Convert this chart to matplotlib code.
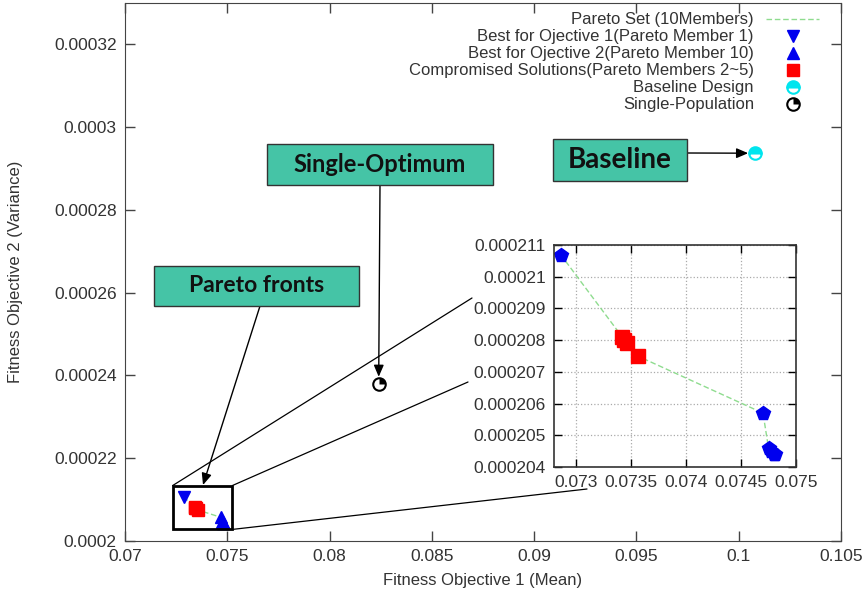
import matplotlib
matplotlib.use("Agg")
import matplotlib.pyplot as plt
from matplotlib.patches import Rectangle, ConnectionPatch
from matplotlib.lines import Line2D
from matplotlib.path import Path
from matplotlib.legend_handler import HandlerTuple
from matplotlib.ticker import FuncFormatter

# pareto set, 10 members (mean, variance)
pareto_mean = [0.07286, 0.07342, 0.07344, 0.07346, 0.07356,
               0.07470, 0.07475, 0.07477, 0.07480, 0.07481]
pareto_var = [0.0002107, 0.0002081, 0.0002080, 0.0002079, 0.0002075,
              0.0002057, 0.0002046, 0.0002045, 0.0002044, 0.0002044]
baseline = (0.1008, 0.0002937)
single_pop = (0.0824, 0.000238)

x_ticks = [0.07, 0.075, 0.08, 0.085, 0.09, 0.095, 0.1, 0.105]
y_ticks = [0.0002, 0.00022, 0.00024, 0.00026, 0.00028, 0.0003, 0.00032]
inset_x_ticks = [0.073, 0.0735, 0.074, 0.0745, 0.075]
inset_y_ticks = [0.000204, 0.000205, 0.000206, 0.000207, 0.000208,
                 0.000209, 0.00021, 0.000211]

W, H = 863, 599
plt.rcParams["font.family"] = ["Liberation Sans", "DejaVu Sans"]
TXT = "#333333"
GREEN = "#8fdc8f"
TEAL = "#45c4a6"


def fp(x, y):
    # pixel position (from top-left) -> figure fraction
    return (x / W, 1 - y / H)


fmt = FuncFormatter(lambda v, p: f"{v:g}")
quarter = Path.wedge(0, 90)

fig = plt.figure(figsize=(W / 100, H / 100), dpi=100)
ax = fig.add_axes([125 / W, 1 - 541 / H, 716 / W, 538 / H])

ax.plot(pareto_mean, pareto_var, color=GREEN, lw=1, ls=(0, (4, 2)))
ax.plot(pareto_mean[:1], pareto_var[:1], ls="none", marker="v", ms=9,
        color="#0000ee")
ax.plot(pareto_mean[5:], pareto_var[5:], ls="none", marker="^", ms=9,
        color="#0000ee")
ax.plot(pareto_mean[1:5], pareto_var[1:5], ls="none", marker="s", ms=8,
        color="#ff0000")
ax.plot(*baseline, ls="none", marker="o", ms=9, fillstyle="top",
        markerfacecolor="#00e5ee", markerfacecoloralt="white",
        markeredgecolor="#00e5ee", mew=1.5)
ax.plot(*single_pop, ls="none", marker="o", ms=9, markerfacecolor="white",
        markeredgecolor="black", mew=1.5)
ax.plot(*single_pop, ls="none", marker=quarter, ms=9, color="black", mew=0)

ax.set_xlim(0.07, 0.105)
ax.set_ylim(0.0002, 0.00033)
ax.set_xticks(x_ticks)
ax.set_yticks(y_ticks)
ax.xaxis.set_major_formatter(fmt)
ax.yaxis.set_major_formatter(fmt)
ax.tick_params(direction="in", top=True, right=True, length=7, width=1,
               labelsize=12.5, labelcolor=TXT, color="#444444", pad=6)
for s in ax.spines.values():
    s.set_color("#444444")
ax.set_xlabel("Fitness Objective 1 (Mean)", fontsize=12, color=TXT, labelpad=6)
ax.set_ylabel("Fitness Objective 2 (Variance)", fontsize=12, color=TXT,
              labelpad=22)

# legend
h_line = Line2D([], [], color=GREEN, lw=1, ls=(0, (4, 2)))
h_v = Line2D([], [], ls="none", marker="v", ms=9, color="#0000ee")
h_u = Line2D([], [], ls="none", marker="^", ms=9, color="#0000ee")
h_s = Line2D([], [], ls="none", marker="s", ms=8, color="#ff0000")
h_b = Line2D([], [], ls="none", marker="o", ms=9, fillstyle="top",
             markerfacecolor="#00e5ee", markerfacecoloralt="white",
             markeredgecolor="#00e5ee", mew=1.5)
h_p1 = Line2D([], [], ls="none", marker="o", ms=9, markerfacecolor="white",
              markeredgecolor="black", mew=1.5)
h_p2 = Line2D([], [], ls="none", marker=quarter, ms=9, color="black", mew=0)
leg = ax.legend([h_line, h_v, h_u, h_s, h_b, (h_p1, h_p2)],
                ["Pareto Set (10Members)",
                 "Best for Ojective 1(Pareto Member 1)",
                 "Best for Ojective 2(Pareto Member 10)",
                 "Compromised Solutions(Pareto Members 2~5)",
                 "Baseline Design", "Single-Population"],
                handler_map={tuple: HandlerTuple(ndivide=1, pad=0)},
                loc="upper right", bbox_to_anchor=(0.979, 0.995),
                markerfirst=False, frameon=False, fontsize=12,
                labelspacing=0.12, handlelength=3.2, handletextpad=0.72,
                borderaxespad=0)
for t in leg.get_texts():
    t.set_color(TXT)

# zoom box around pareto front
ax.add_patch(Rectangle((0.07233, 0.0002028), 0.07525 - 0.07233,
                       0.0002134 - 0.0002028, fill=False, ec="black", lw=2,
                       zorder=5))
for (bx, by), (px, py) in [((0.07233, 0.0002134), (472, 298)),
                           ((0.07525, 0.0002134), (468, 382)),
                           ((0.07525, 0.0002028), (587, 489))]:
    fig.add_artist(ConnectionPatch((bx, by), fp(px, py), coordsA="data",
                                   axesA=ax, coordsB="figure fraction",
                                   color="black", lw=0.9))

# inset
ins = fig.add_axes([554 / W, 1 - 467 / H, 242 / W, 222 / H])
ins.plot(pareto_mean, pareto_var, color=GREEN, lw=1, ls=(0, (4, 2)))
ins.plot(pareto_mean[:1] + pareto_mean[5:], pareto_var[:1] + pareto_var[5:],
         ls="none", marker="p", ms=10, color="#0000ee")
ins.plot(pareto_mean[1:5], pareto_var[1:5], ls="none", marker="s", ms=10,
         color="#ff0000")
ins.set_xlim(0.0728, 0.075)
ins.set_ylim(0.000204, 0.000211)
ins.set_xticks(inset_x_ticks)
ins.set_yticks(inset_y_ticks)
ins.xaxis.set_major_formatter(fmt)
ins.yaxis.set_major_formatter(fmt)
ins.grid(color="#aaaaaa", ls=":", lw=0.9)
ins.tick_params(direction="in", top=True, right=True, length=6, width=1,
                labelsize=12.5, labelcolor=TXT, pad=6)
for s in ins.spines.values():
    s.set_color("#333333")
    s.set_linewidth(1.2)

# call-out boxes
def callout(x0, y0, x1, y1, text, size):
    fig.add_artist(Rectangle(fp(x0, y1), (x1 - x0) / W, (y1 - y0) / H,
                             transform=fig.transFigure, fc=TEAL,
                             ec="#333333", lw=1))
    cx, cy = fp((x0 + x1) / 2, (y0 + y1) / 2)
    fig.text(cx, cy, text, ha="center", va="center", fontsize=size,
             fontweight="bold", family="Lato", color="#111111")


callout(267, 144, 493, 185, "Single-Optimum", 17)
callout(553, 139, 687, 181, "Baseline", 20)
callout(154, 266, 359, 306, "Pareto fronts", 16.5)

arrow = dict(arrowstyle="-|>,head_length=0.7,head_width=0.3", color="black",
             lw=1, shrinkA=0)
ax.annotate("", xy=single_pop, xytext=fp(380, 185),
            textcoords="figure fraction",
            arrowprops=dict(arrow, shrinkB=5))
ax.annotate("", xy=baseline, xytext=fp(687, 153),
            textcoords="figure fraction",
            arrowprops=dict(arrow, shrinkB=5))
ax.annotate("", xy=fp(203, 485), xycoords="figure fraction",
            xytext=fp(260, 306), textcoords="figure fraction",
            arrowprops=dict(arrow, shrinkB=0))

fig.savefig("out.png", dpi=100)
